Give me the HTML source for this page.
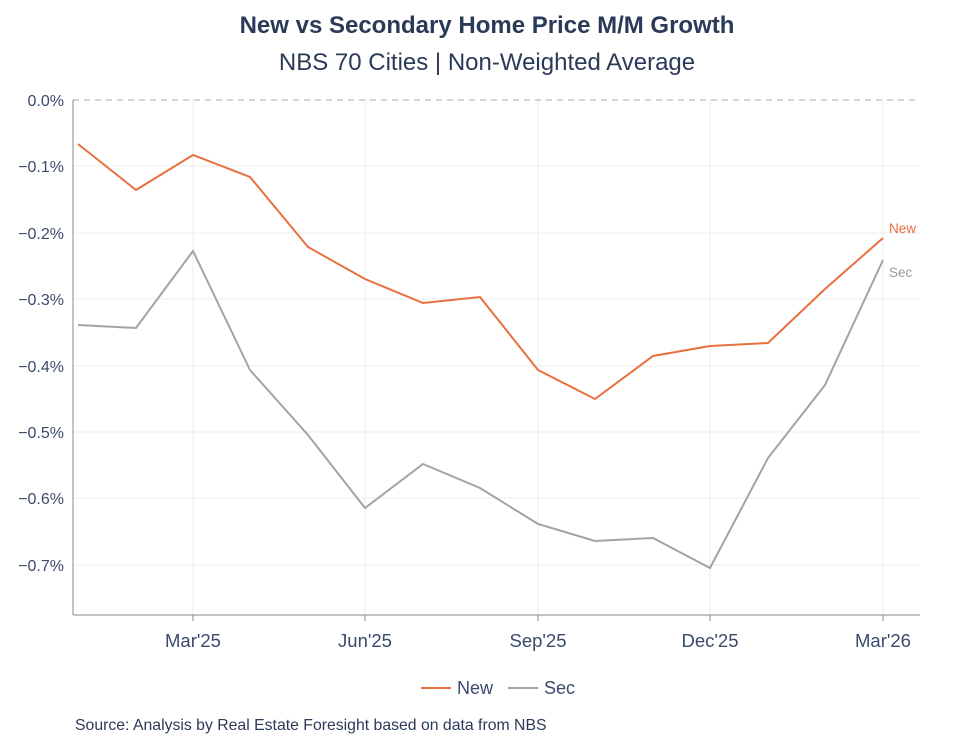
<!DOCTYPE html>
<html><head><meta charset="utf-8"><style>
body{margin:0;background:#fff;width:976px;height:742px;overflow:hidden;font-family:"Liberation Sans",sans-serif}
</style></head><body>
<svg width="976" height="742" xmlns="http://www.w3.org/2000/svg" font-family="Liberation Sans, sans-serif">
<text x="487" y="33" text-anchor="middle" font-size="24" font-weight="bold" fill="#2b3a58">New vs Secondary Home Price M/M Growth</text>
<text x="487" y="70" text-anchor="middle" font-size="24" fill="#2b3a58">NBS 70 Cities | Non-Weighted Average</text>
<g stroke="#ececec" stroke-width="1">
<line x1="73" y1="166" x2="920" y2="166"/><line x1="73" y1="233" x2="920" y2="233"/>
<line x1="73" y1="299" x2="920" y2="299"/><line x1="73" y1="366" x2="920" y2="366"/>
<line x1="73" y1="432" x2="920" y2="432"/><line x1="73" y1="498" x2="920" y2="498"/>
<line x1="73" y1="565" x2="920" y2="565"/>
<line x1="193" y1="100" x2="193" y2="615"/><line x1="365" y1="100" x2="365" y2="615"/>
<line x1="538" y1="100" x2="538" y2="615"/><line x1="710" y1="100" x2="710" y2="615"/>
<line x1="883" y1="100" x2="883" y2="615"/>
</g>
<line x1="73" y1="100" x2="920" y2="100" stroke="#aaa" stroke-dasharray="6,5"/>
<line x1="73" y1="100" x2="73" y2="615" stroke="#888"/>
<line x1="73" y1="615" x2="920" y2="615" stroke="#888"/>
<g stroke="#888"><line x1="193" y1="615" x2="193" y2="621"/><line x1="365" y1="615" x2="365" y2="621"/><line x1="538" y1="615" x2="538" y2="621"/><line x1="710" y1="615" x2="710" y2="621"/><line x1="883" y1="615" x2="883" y2="621"/></g>
<g font-size="16" fill="#3a4a6b" text-anchor="end">
<text x="64" y="106">0.0%</text><text x="64" y="172">−0.1%</text><text x="64" y="239">−0.2%</text>
<text x="64" y="305">−0.3%</text><text x="64" y="372">−0.4%</text><text x="64" y="438">−0.5%</text>
<text x="64" y="504">−0.6%</text><text x="64" y="571">−0.7%</text>
</g>
<g font-size="18.5" fill="#3a4a6b" text-anchor="middle">
<text x="193" y="647">Mar'25</text><text x="365" y="647">Jun'25</text><text x="538" y="647">Sep'25</text>
<text x="710" y="647">Dec'25</text><text x="883" y="647">Mar'26</text>
</g>
<polyline fill="none" stroke="#a3a3a3" stroke-width="2" points="78,325 136,328 193,251 250,370 308,435 365,508 423,464 480,488 538,524 595,541 653,538 710,568 768,458 825,385 883,260"/>
<polyline fill="none" stroke="#e8703f" stroke-width="2" points="78,144 136,190 193,155 250,177 308,247 365,279 423,303 480,297 538,370 595,399 653,356 710,346 768,343 825,289 883,238"/>
<text x="889" y="233" font-size="13.5" fill="#e8703f">New</text>
<text x="889" y="277" font-size="13.5" fill="#999">Sec</text>
<line x1="421" y1="688" x2="451" y2="688" stroke="#e8703f" stroke-width="2"/>
<text x="457" y="694" font-size="18" fill="#3a4a6b">New</text>
<line x1="508" y1="688" x2="538" y2="688" stroke="#a3a3a3" stroke-width="2"/>
<text x="544" y="694" font-size="18" fill="#3a4a6b">Sec</text>
<text x="75" y="730" font-size="15.8" fill="#2b3a58">Source: Analysis by Real Estate Foresight based on data from NBS</text>
</svg>
</body></html>
